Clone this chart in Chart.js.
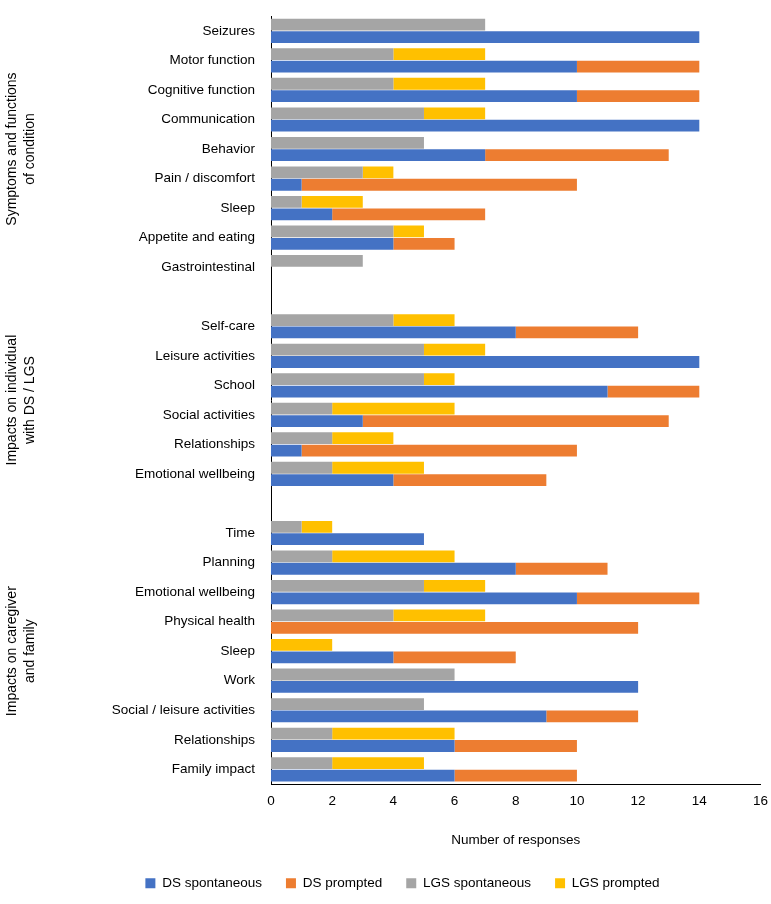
<!DOCTYPE html>
<html><head><meta charset="utf-8">
<script src="https://cdn.jsdelivr.net/npm/chart.js@4"></script>
<style>body{margin:0;background:#fff}#w{width:771px;height:904px}</style>
</head><body><div id="w"><canvas id="c"></canvas></div>
<script>
const categories=["Seizures","Motor function","Cognitive function","Communication","Behavior","Pain / discomfort","Sleep","Appetite and eating","Gastrointestinal","",
"Self-care","Leisure activities","School","Social activities","Relationships","Emotional wellbeing","",
"Time","Planning","Emotional wellbeing","Physical health","Sleep","Work","Social / leisure activities","Relationships","Family impact"];
const dsSpontaneous=[14,10,10,14,7,1,2,4,0,null, 8,14,11,3,1,4,null, 5,8,10,0,4,12,9,6,6];
const dsPrompted=[0,4,4,0,6,9,5,2,0,null, 4,0,3,10,9,5,null, 0,3,4,12,4,0,3,4,4];
const lgsSpontaneous=[7,4,4,5,5,3,1,4,3,null, 4,5,5,2,2,2,null, 1,2,5,4,0,6,5,2,2];
const lgsPrompted=[0,3,3,2,0,1,2,1,0,null, 2,2,1,4,2,3,null, 1,4,2,3,2,0,0,4,3];
const xTicks=[0,2,4,6,8,10,12,14,16];
const groups=[["Symptoms and functions","of condition",0,8],["Impacts on individual","with DS / LGS",10,15],["Impacts on caregiver","and family",17,25]];
const F="'Liberation Sans', Arial, sans-serif";
const groupPlugin={id:"grp",afterDraw(ch){const c=ch.ctx,y=ch.scales.y;c.save();c.fillStyle="#000";c.font="14px "+F;c.textAlign="center";c.textBaseline="middle";
groups.forEach(g=>{const cy=(y.getPixelForValue(g[2])+y.getPixelForValue(g[3]))/2;c.save();c.translate(12,cy);c.rotate(-Math.PI/2);c.fillText(g[0],0,0);c.restore();c.save();c.translate(30,cy);c.rotate(-Math.PI/2);c.fillText(g[1],0,0);c.restore();});c.restore();}};
const bp=0.95,cp=0.84;
new Chart(document.getElementById("c"),{type:"bar",
data:{labels:categories,datasets:[
{label:"LGS spontaneous",data:lgsSpontaneous,backgroundColor:"#A5A5A5",stack:"LGS",barPercentage:bp,categoryPercentage:cp,o:2},
{label:"LGS prompted",data:lgsPrompted,backgroundColor:"#FFC000",stack:"LGS",barPercentage:bp,categoryPercentage:cp,o:3},
{label:"DS spontaneous",data:dsSpontaneous,backgroundColor:"#4472C4",stack:"DS",barPercentage:bp,categoryPercentage:cp,o:0},
{label:"DS prompted",data:dsPrompted,backgroundColor:"#ED7D31",stack:"DS",barPercentage:bp,categoryPercentage:cp,o:1}]},
options:{indexAxis:"y",responsive:true,maintainAspectRatio:false,animation:false,
layout:{padding:{left:44,right:10,top:4,bottom:4}},
plugins:{tooltip:{enabled:false},legend:{position:"bottom",labels:{font:{family:F,size:13.5},color:"#000",boxWidth:10,boxHeight:10,padding:24,
sort:(a,b,d)=>d.datasets[a.datasetIndex].o-d.datasets[b.datasetIndex].o}}},
scales:{x:{stacked:true,min:0,max:16,afterBuildTicks:s=>{s.ticks=xTicks.map(v=>({value:v}));},grid:{display:false,drawTicks:true,tickLength:6,color:"#000"},border:{display:true,color:"#000"},
ticks:{font:{family:F,size:13.5},color:"#000"},title:{display:true,text:"Number of responses",font:{family:F,size:13.5},color:"#000",padding:{top:20,bottom:4}}},
y:{stacked:true,afterFit:s=>{s.width=227;},grid:{display:false},border:{display:true,color:"#000"},ticks:{font:{family:F,size:13.5},color:"#000",autoSkip:false,padding:8}}}},
plugins:[groupPlugin]});
</script></body></html>
